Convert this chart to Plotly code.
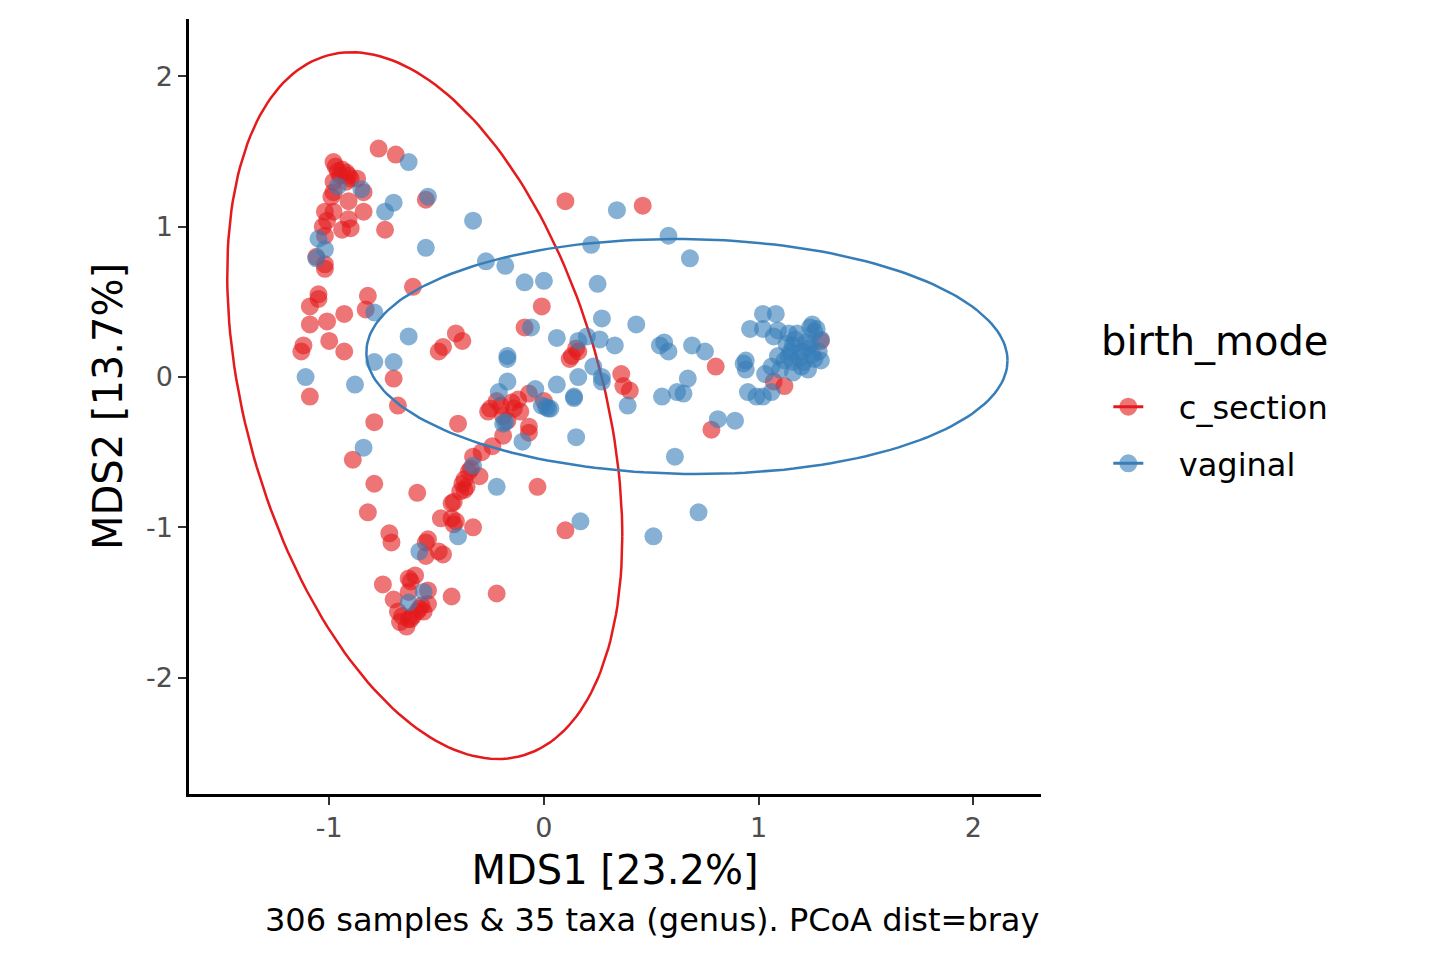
import numpy as np
import plotly.graph_objects as go

# ordination scores (MDS1, MDS2)
cs_x = [-0.77, -0.69, -0.98, -0.97, -0.94, -0.92, -0.95, -0.90, -0.87, -0.98, -0.92, -0.84, -0.98,
        -0.91, -0.99, -0.84, -1.02, -0.98, -0.91, -1.01, -0.94, -0.90, -1.03, -1.02, -0.74, -0.55,
        -1.06, -1.02, -1.02, -0.61, -1.05, -1.05, -1.09, -0.93, -0.82, -0.83, -1.09, -1.01, -0.41,
        -0.38, -0.47, -0.49, -1.12, -1.13, -1.00, -0.93, -0.70, -1.09, -0.68, -0.79, -0.40, -0.89,
        -0.79, -0.59, -0.82, -0.72, -0.71, -0.19, -0.24, -0.29, -0.33, -0.07, -0.30, -0.37, -0.38,
        -0.37, -0.35, -0.39, -0.42, -0.43, -0.48, -0.43, -0.41, -0.42, -0.33, -0.54, -0.55, -0.49,
        -0.47, -0.55, -0.63, -0.60, -0.62, -0.75, -0.70, -0.63, -0.54, -0.43, -0.22, -0.57, -0.56,
        -0.61, -0.63, -0.67, -0.64, -0.59, -0.54, -0.68, -0.03, 0.10, 0.46, -0.01, -0.09, 0.15,
        0.13, 0.16, 0.12, 0.36, 0.37, 0.40, -0.25, -0.20, -0.15, -0.12, -0.07, -0.14, -0.19, -0.11,
        0.00, -0.07, 0.80, 1.07, 1.12, 1.29, 0.78, 0.10, -0.26, -0.22, -0.17, -0.96, -0.91, -0.62,
        -0.58, -0.66, -0.36, -0.34]
cs_y = [1.52, 1.48, 1.43, 1.40, 1.38, 1.36, 1.34, 1.32, 1.32, 1.30, 1.30, 1.23, 1.23,
        1.17, 1.20, 1.10, 1.10, 1.10, 1.05, 1.04, 0.98, 0.99, 1.00, 0.94, 0.98, 1.18,
        0.80, 0.75, 0.72, 0.60, 0.55, 0.52, 0.47, 0.42, 0.54, 0.45, 0.35, 0.37, 0.29,
        0.24, 0.20, 0.17, 0.21, 0.17, 0.24, 0.17, -0.01, -0.13, -0.19, -0.30, -0.31, -0.55,
        -0.71, -0.77, -0.90, -1.04, -1.10, -0.39, -0.46, -0.50, -0.53, -0.37, -0.66, -0.68, -0.71,
        -0.75, -0.63, -0.76, -0.83, -0.84, -0.94, -0.94, -0.96, -0.98, -1.00, -1.08, -1.10, -1.16,
        -1.18, -1.19, -1.34, -1.32, -1.36, -1.38, -1.48, -1.43, -1.42, -1.46, -1.44, -1.52, -1.56,
        -1.59, -1.61, -1.63, -1.66, -1.56, -1.51, -1.56, -0.73, 1.17, 1.14, 0.47, 0.33, 0.19,
        0.14, 0.17, 0.12, 0.02, -0.06, -0.09, -0.21, -0.19, -0.17, -0.15, -0.11, -0.21, -0.26, -0.23,
        -0.16, -0.33, 0.07, -0.03, -0.06, 0.24, -0.35, -1.02, -0.23, -0.16, -0.29, 1.37, 1.34, -1.61,
        -1.54, -1.59, -0.73, -0.61]

vag_x = [-0.63, -0.96, -0.85, -0.70, -0.74, -0.54, -0.33, -0.55, -1.05, -1.02, -1.06, -0.79, -0.63,
         -0.79, -0.70, -1.11, -0.88, -0.84, -0.10, -0.19, -0.22, -0.33, -0.40, -0.58, -0.56, -0.63,
         0.34, 0.58, 0.22, -0.27, -0.18, -0.09, 0.00, 0.25, 0.27, 0.43, -0.06, 0.06, 0.16, 0.20,
         0.26, 0.33, 0.54, 0.56, 0.58, -0.17, 0.23, 0.16, 0.27, -0.17, 0.06, -0.04, -0.21, 0.14,
         0.01, 0.03, 0.39, 0.55, 0.62, 0.68, 1.02, 1.08, 0.96, 1.02, 0.69, 0.75, 0.93, 0.94, 0.94,
         0.67, 0.65, 0.95, 0.99, 1.02, 1.06, 1.03, 0.81, 0.89, 1.07, 1.09, 1.14, 1.24, 1.26, 1.29,
         1.16, 1.20, 1.23, 1.14, 1.09, 1.16, 1.21, 1.26, 1.28, 1.06, 1.10, 1.16, 1.20, 1.23, 1.29,
         0.14, 0.27, 0.15, 0.61, 0.17, 0.72, 0.51, -0.17, -0.01, 0.02, -0.18, 1.13, 1.17, 1.22,
         1.15, 1.19, 1.24, 1.12, 1.27, 1.25, 1.18, 1.25]
vag_y = [1.43, 1.27, 1.25, 1.16, 1.10, 1.20, 1.04, 0.86, 0.92, 0.85, 0.79, 0.43, 0.27,
         0.10, 0.10, 0.00, -0.05, -0.47, -0.43, -0.31, -0.73, -0.59, -1.06, -1.16, -1.43, -1.50,
         1.11, 0.94, 0.88, 0.77, 0.74, 0.63, 0.64, 0.62, 0.39, 0.35, 0.33, 0.26, 0.24, 0.27,
         0.25, 0.21, 0.21, 0.23, 0.17, 0.14, 0.07, 0.00, 0.00, -0.03, -0.05, -0.08, -0.10, -0.14,
         -0.20, -0.21, -0.19, -0.13, -0.10, 0.79, 0.42, 0.42, 0.32, 0.32, 0.21, 0.17, 0.09, 0.11, 0.05,
         -0.01, -0.11, -0.10, -0.13, -0.13, -0.10, 0.02, -0.28, -0.29, 0.27, 0.31, 0.29, 0.33, 0.30, 0.25,
         0.21, 0.17, 0.19, 0.14, 0.14, 0.10, 0.10, 0.12, 0.17, 0.07, 0.05, 0.03, 0.07, 0.05, 0.11,
         -0.13, -0.03, -0.40, -0.53, -0.96, -0.90, -1.06, 0.12, -0.19, -0.21, -0.30, 0.22, 0.25, 0.23,
         0.17, 0.13, 0.22, 0.11, 0.32, 0.35, 0.29, 0.15]

x_ticks = [-1, 0, 1, 2]
y_ticks = [-2, -1, 0, 1, 2]

# 95% ellipse shapes: centre, half extents along x / y, phase between them
ell_cs = dict(cx=-0.555, cy=-0.19, hx=0.92, hy=2.351, cosphi=-0.37)
ell_vag = dict(cx=0.666, cy=0.137, hx=1.493, hy=0.782, cosphi=-0.035)

red = '#E41A1C'
blue = '#377EB8'


def ellipse(p, n=200):
    t = np.linspace(0, 2 * np.pi, n)
    phi = np.arccos(p['cosphi'])
    return p['cx'] + p['hx'] * np.cos(t), p['cy'] + p['hy'] * np.cos(t + phi)


fig = go.Figure()

for i, (name, xs, ys, ell, col) in enumerate([('c_section', cs_x, cs_y, ell_cs, red),
                                              ('vaginal', vag_x, vag_y, ell_vag, blue)]):
    fig.add_trace(go.Scatter(x=xs, y=ys, mode='markers', showlegend=False,
                             marker=dict(size=16, color=col, opacity=0.6,
                                         line=dict(width=2, color=col))))
    ex, ey = ellipse(ell)
    fig.add_trace(go.Scatter(x=ex, y=ey, mode='lines', showlegend=False,
                             line=dict(color=col, width=2.5)))
    # legend entry (line + point like ggplot's key)
    fig.add_trace(go.Scatter(x=[None], y=[None], mode='lines+markers', name='   ' + name,
                             legendgroup=f'g{i}',
                             line=dict(color=col, width=3),
                             marker=dict(size=16, color=col, opacity=0.6,
                                         line=dict(width=2, color=col))))

font = 'DejaVu Sans'
axis = dict(showgrid=False, zeroline=False, showline=True, linecolor='black', linewidth=2.5,
            ticks='outside', ticklen=8, tickwidth=2, tickcolor='#333333', automargin=False,
            tickfont=dict(family=font, size=27, color='#4D4D4D'), mirror=False)

fig.update_layout(
    width=1440, height=960,
    paper_bgcolor='white', plot_bgcolor='white',
    margin=dict(l=181, r=407, t=11, b=174),
    font=dict(family=font, color='black'),
    xaxis=dict(axis, range=[-1.653, 2.315], tickvals=x_ticks, ticktext=[str(v) for v in x_ticks],
               title=dict(text='MDS1 [23.2%]', font=dict(size=40), standoff=14)),
    yaxis=dict(axis, range=[-2.774, 2.382], tickvals=y_ticks, ticktext=[str(v) for v in y_ticks],
               title=dict(text='MDS2 [13.7%]', font=dict(size=40), standoff=11)),
    legend=dict(font=dict(size=32), x=1.079, y=0.535, xanchor='left', yanchor='top',
                tracegroupgap=12),
    annotations=[dict(text='306 samples & 35 taxa (genus). PCoA dist=bray',
                      xref='paper', yref='paper', x=1.0, y=-0.1626,
                      xanchor='right', yanchor='middle', showarrow=False,
                      font=dict(size=32, family=font)),
                 dict(text='birth_mode', xref='paper', yref='paper', x=1.068, y=0.5845,
                      xanchor='left', yanchor='middle', showarrow=False,
                      font=dict(size=40, family=font))],
)

fig.write_html('out.html')
